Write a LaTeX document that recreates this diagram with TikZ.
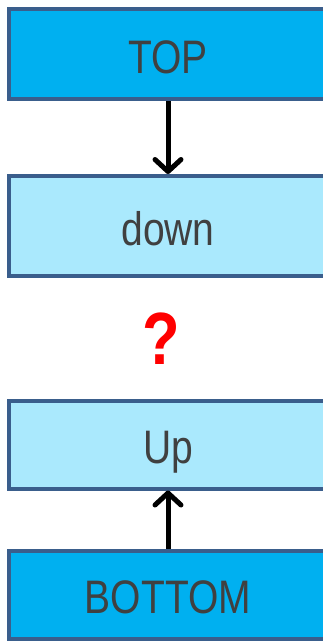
\documentclass[tikz,border=0pt]{standalone}
\usepackage{fontspec}
\setmainfont{Liberation Sans}[FakeStretch=0.83]
\usetikzlibrary{arrows.meta,positioning}
\definecolor{boxline}{HTML}{3A5E8C}
\definecolor{darkfill}{HTML}{00B0F0}
\definecolor{lightfill}{HTML}{AAE9FD}
\definecolor{txt}{HTML}{404040}
\tikzset{
  layer/.style={draw=boxline, line width=4pt, minimum width=318pt, text=txt,
    text height=41pt, text depth=3pt, font=\fontsize{47}{50}\selectfont},
  flow/.style={line width=5pt, -{Straight Barb[length=12pt,width=26pt,round]}}
}

\begin{document}
\begin{tikzpicture}[x=1pt,y=1pt]
  \useasboundingbox (0,0) rectangle (323,-641);
  \clip (0,0) rectangle (323,-641);
  \node[layer, fill=darkfill, minimum height=90pt] (top) at (168,-54) {TOP};
  \node[layer, fill=lightfill, minimum height=100pt] (down) at (168,-226) {down};
  \node[layer, fill=lightfill, minimum height=88pt] (up) at (168,-444.5) {Up};
  \node[layer, fill=darkfill, minimum height=88pt] (bottom) at (168,-594.5) {BOTTOM};
  % the gap in between
  \node[text=red, font=\fontsize{74}{80}\selectfont\bfseries] (ask) at (161,-339) {?};
  \draw[flow] (top.south) -- (down.north);
  \draw[flow] (bottom.north) -- (up.south);
\end{tikzpicture}
\end{document}
